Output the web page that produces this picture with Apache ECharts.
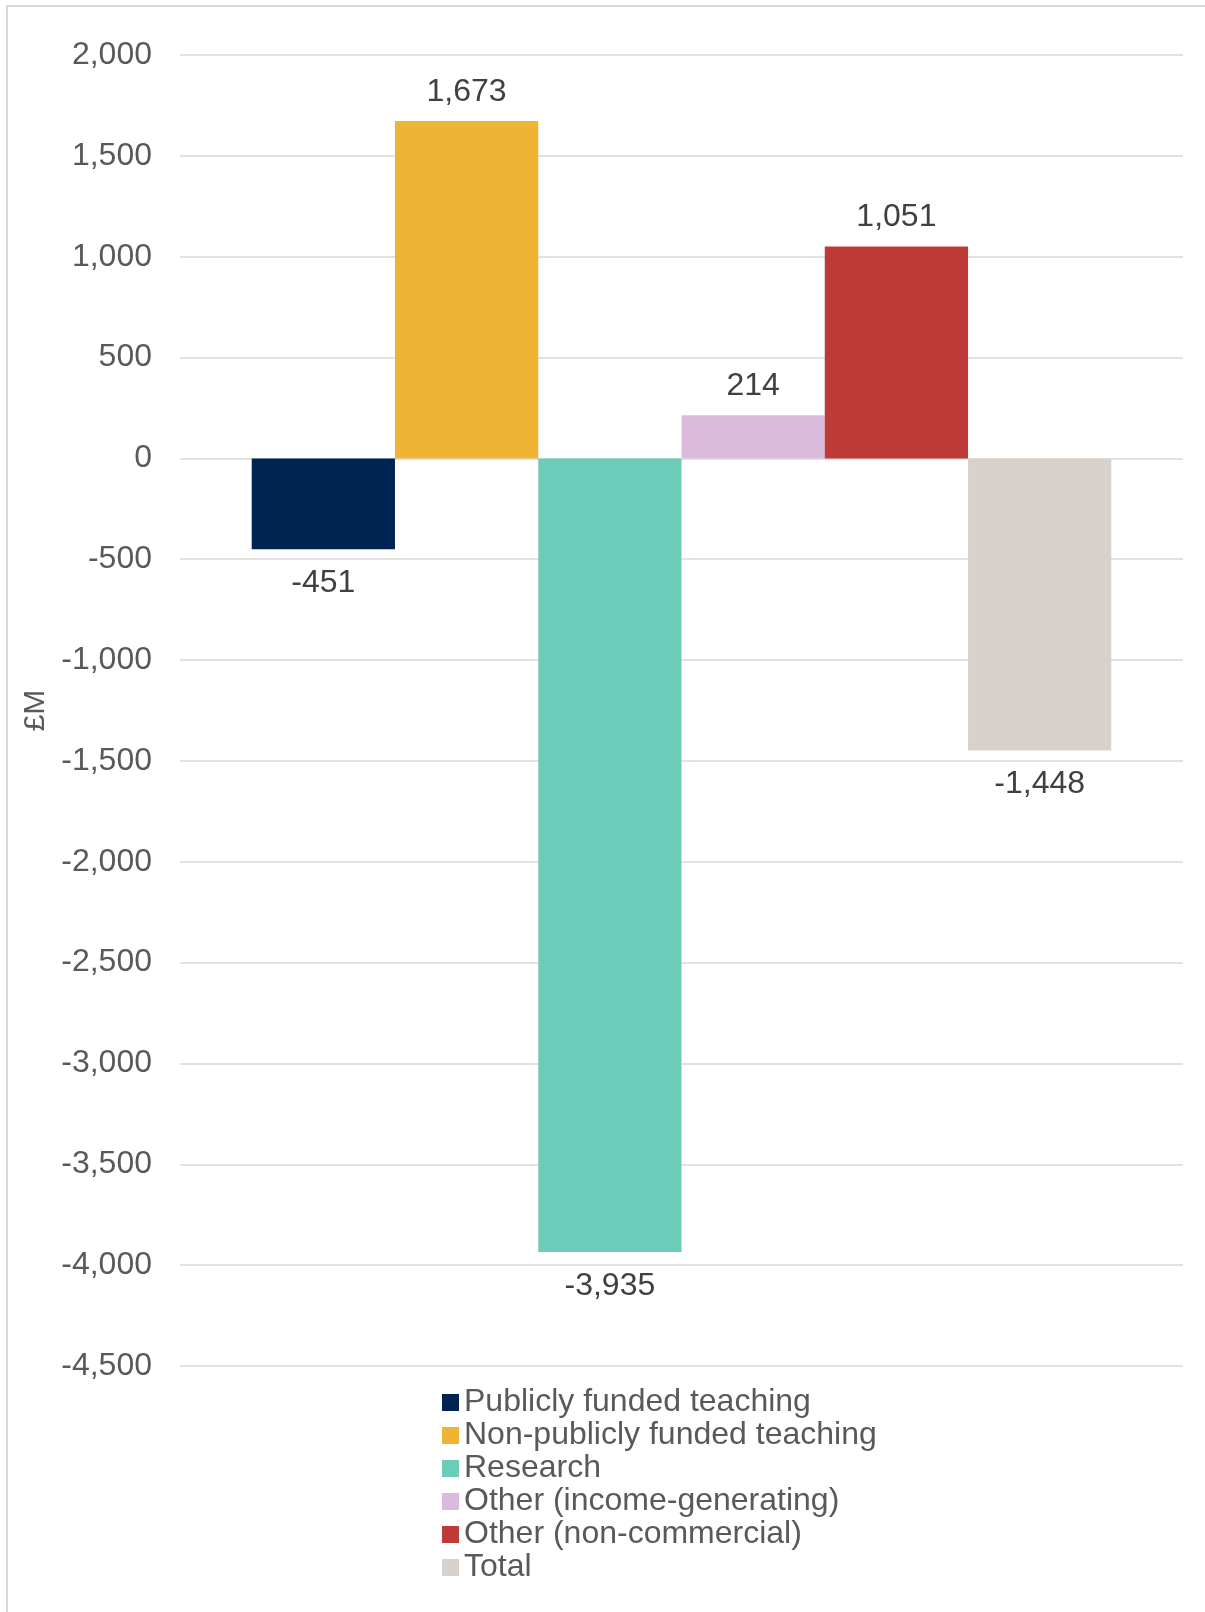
<!DOCTYPE html>
<html>
<head>
<meta charset="utf-8">
<script src="https://cdn.jsdelivr.net/npm/echarts@6/dist/echarts.min.js"></script>
<style>
  html, body { margin: 0; padding: 0; background: #fff; }
  #chart { width: 1205px; height: 1612px; }
</style>
</head>
<body>
<div id="chart"></div>
<script>
// data
var seriesNames = [
    'Publicly funded teaching',
    'Non-publicly funded teaching',
    'Research',
    'Other (income-generating)',
    'Other (non-commercial)',
    'Total'
];
var seriesValues = [-451, 1673, -3935, 214, 1051, -1448];
var seriesColors = ['#002452', '#F0B434', '#6DCBBA', '#DABBDD', '#BE3A36', '#D7D2CC'];
var yMin = -4500, yMax = 2000, yStep = 500;

var chart = echarts.init(document.getElementById('chart'));

var fmt = function(v) {
    return v.toLocaleString('en-GB');
};

var series = seriesNames.map(function(name, i) {
    var neg = seriesValues[i] < 0;
    return {
        name: name,
        type: 'bar',
        barGap: '0%',
        barCategoryGap: '14.3%',
        itemStyle: { color: seriesColors[i] },
        label: {
            show: true,
            position: neg ? 'bottom' : 'top',
            distance: neg ? 18 : 13,
            fontSize: 32,
            fontFamily: 'Liberation Sans, Arial, sans-serif',
            color: '#404040',
            formatter: function(p) { return fmt(p.value); }
        },
        data: [seriesValues[i]]
    };
});

var option = {
    animation: false,
    textStyle: { fontFamily: 'Liberation Sans, Arial, sans-serif' },
    graphic: [{
        type: 'rect',
        shape: { x: 7, y: 6, width: 1300, height: 1700 },
        style: { fill: 'none', stroke: '#d9d9d9', lineWidth: 2 },
        silent: true
    }],
    grid: { left: 180, right: 22, top: 55, height: 1311 },
    legend: {
        orient: 'vertical',
        left: 437,
        top: 1381,
        itemWidth: 17,
        itemHeight: 17,
        itemGap: 0,
        icon: 'rect',
        textStyle: { fontSize: 32, lineHeight: 33, color: '#595959' },
        data: seriesNames
    },
    xAxis: {
        type: 'category',
        data: [''],
        axisLine: { show: false },
        axisTick: { show: false },
        axisLabel: { show: false }
    },
    yAxis: {
        type: 'value',
        min: yMin,
        max: yMax,
        interval: yStep,
        name: '£M',
        nameLocation: 'middle',
        nameGap: 129,
        nameTextStyle: { fontSize: 30, color: '#595959' },
        axisLine: { show: false },
        axisTick: { show: false },
        axisLabel: {
            fontSize: 32,
            color: '#595959',
            margin: 28,
            formatter: function(v) { return fmt(v); }
        },
        splitLine: { lineStyle: { color: '#d9d9d9', width: 1.5 } }
    },
    series: series
};

chart.setOption(option);
</script>
</body>
</html>
